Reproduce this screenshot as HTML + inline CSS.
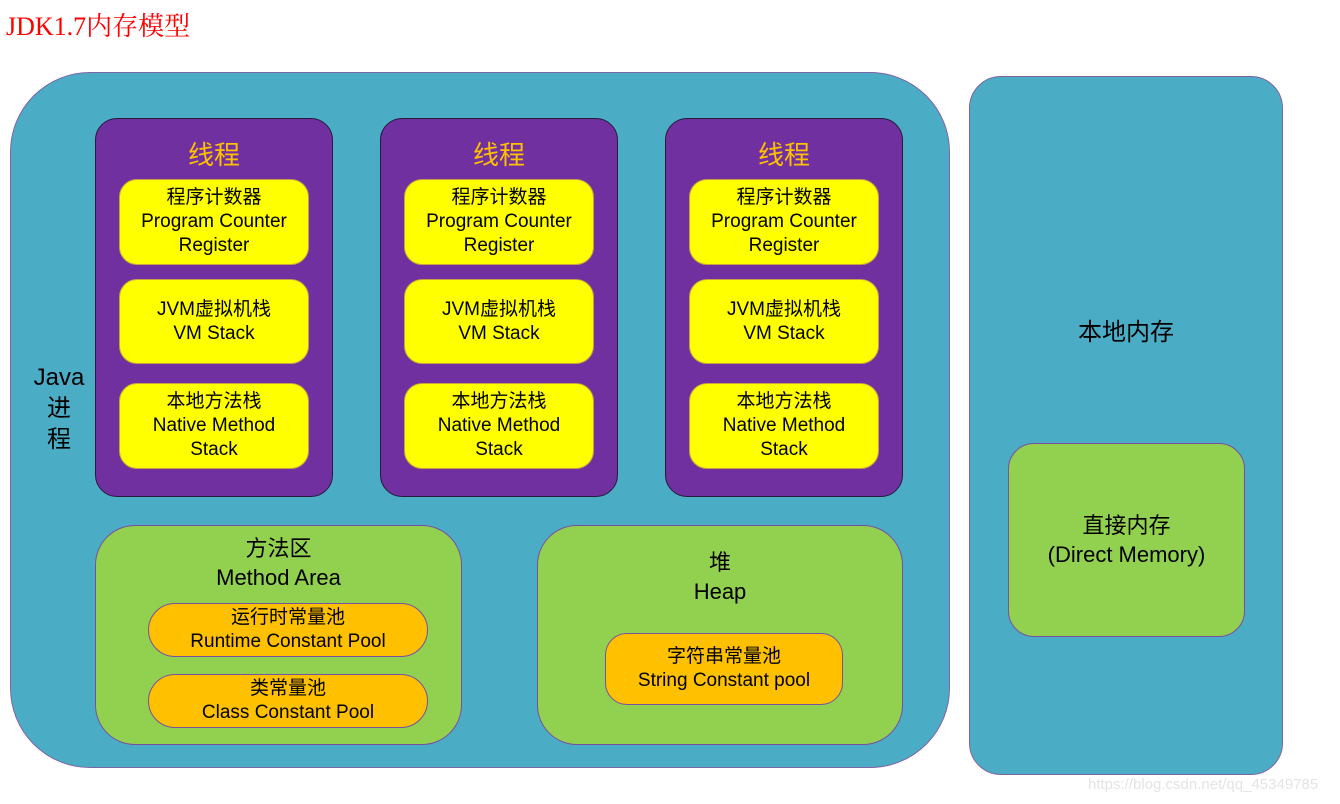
<!DOCTYPE html>
<html><head><meta charset="utf-8"><style>
body{margin:0;width:1340px;height:804px;background:#fff;position:relative;overflow:hidden;font-family:"Liberation Sans","Noto Sans CJK SC",sans-serif;}
.a{position:absolute;box-sizing:border-box;}
.c{display:flex;flex-direction:column;align-items:center;justify-content:center;text-align:center;color:#000;}
.th{background:#7030a0;border:1.5px solid #2a1a3a;border-radius:22px;width:238px;height:379px;top:118px;}
.th .t{position:absolute;left:0;right:0;top:133px;}
.y{background:#ffff00;border:1px solid #c8a040;border-radius:18px;width:190px;left:23px;font-size:19px;line-height:24px;}
.g{background:#92d050;border:1.5px solid #7a4fa0;}
.o{background:#ffc000;border:1px solid #7a4fa0;border-radius:27px;font-size:19px;line-height:24px;}
</style></head><body>
<div class="a" style="left:6px;top:6px;color:#ff0000;font-family:'Liberation Serif','Noto Serif CJK SC',serif;font-size:26px;">JDK1.7内存模型</div>
<div class="a" style="left:10px;top:72px;width:940px;height:696px;background:#4bacc6;border:1.5px solid #8064a2;border-radius:80px;"></div>
<div class="a" style="left:969px;top:76px;width:314px;height:699px;background:#4bacc6;border:1.5px solid #8064a2;border-radius:32px;"></div>
<div class="a c" style="left:28px;top:362px;width:62px;font-size:24px;line-height:31px;">Java<br>进<br>程</div>

<div class="a th" style="left:95px;">
<div class="a c" style="left:0;right:0;top:16px;color:#ffc000;font-size:26px;">线程</div>
<div class="a y c" style="top:60px;height:86px;">程序计数器<br>Program Counter<br>Register</div>
<div class="a y c" style="top:160px;height:85px;">JVM虚拟机栈<br>VM Stack</div>
<div class="a y c" style="top:264px;height:86px;">本地方法栈<br>Native Method<br>Stack</div>
</div>
<div class="a th" style="left:380px;">
<div class="a c" style="left:0;right:0;top:16px;color:#ffc000;font-size:26px;">线程</div>
<div class="a y c" style="top:60px;height:86px;">程序计数器<br>Program Counter<br>Register</div>
<div class="a y c" style="top:160px;height:85px;">JVM虚拟机栈<br>VM Stack</div>
<div class="a y c" style="top:264px;height:86px;">本地方法栈<br>Native Method<br>Stack</div>
</div>
<div class="a th" style="left:665px;">
<div class="a c" style="left:0;right:0;top:16px;color:#ffc000;font-size:26px;">线程</div>
<div class="a y c" style="top:60px;height:86px;">程序计数器<br>Program Counter<br>Register</div>
<div class="a y c" style="top:160px;height:85px;">JVM虚拟机栈<br>VM Stack</div>
<div class="a y c" style="top:264px;height:86px;">本地方法栈<br>Native Method<br>Stack</div>
</div>

<div class="a g" style="left:95px;top:525px;width:367px;height:220px;border-radius:40px;"></div>
<div class="a c" style="left:95px;top:534px;width:367px;font-size:22px;line-height:29px;">方法区<br>Method Area</div>
<div class="a o c" style="left:148px;top:603px;width:280px;height:54px;">运行时常量池<br>Runtime Constant Pool</div>
<div class="a o c" style="left:148px;top:674px;width:280px;height:54px;">类常量池<br>Class Constant Pool</div>

<div class="a g" style="left:537px;top:525px;width:366px;height:220px;border-radius:40px;"></div>
<div class="a c" style="left:537px;top:548px;width:366px;font-size:22px;line-height:29px;">堆<br>Heap</div>
<div class="a o c" style="left:605px;top:633px;width:238px;height:72px;border-radius:22px;">字符串常量池<br>String Constant pool</div>

<div class="a c" style="left:969px;top:312px;width:314px;font-size:24px;">本地内存</div>
<div class="a g c" style="left:1008px;top:443px;width:237px;height:194px;border-radius:26px;font-size:22px;line-height:29px;">直接内存<br>(Direct Memory)</div>
<div class="a" style="left:1088px;top:776px;color:#e4e4e4;font-size:15px;">https://blog.csdn.net/qq_45349785</div>
</body></html>
